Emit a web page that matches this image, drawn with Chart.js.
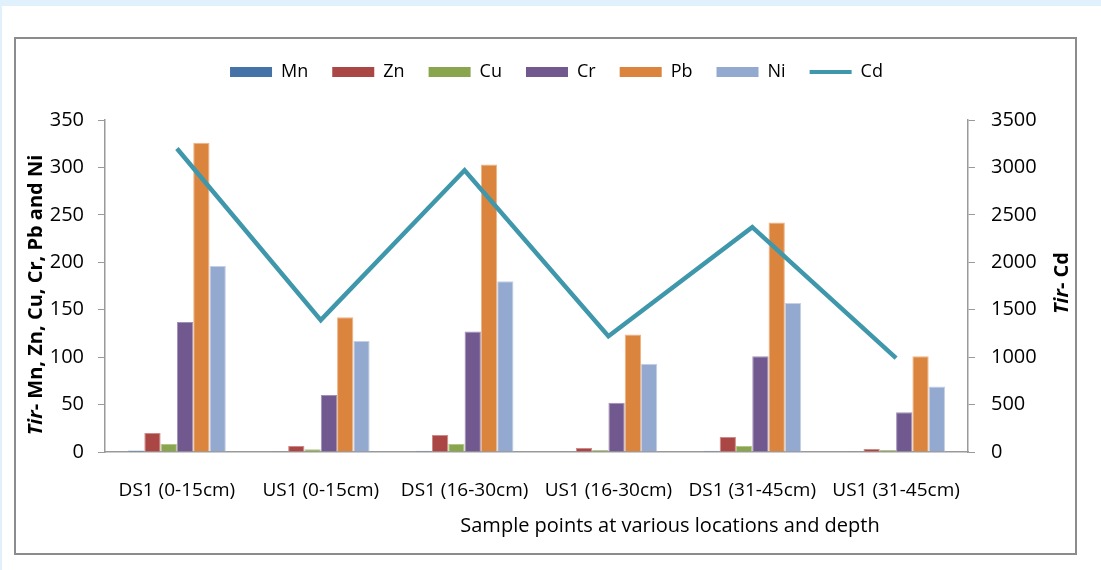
<!DOCTYPE html>
<html>
<head>
<meta charset="utf-8">
<script src="https://cdn.jsdelivr.net/npm/chart.js@4/dist/chart.umd.min.js"></script>
<style>
  html, body { margin: 0; padding: 0; }
  body { width: 1101px; height: 570px; background: #e0f1fb; position: relative; overflow: hidden; }
  .pagina { position: absolute; left: 2px; top: 6px; right: 0; bottom: 0; background: #fff; }
  .quadro { position: absolute; left: 14px; top: 37px; width: 1059px; height: 514px; border: 2px solid #8c8c8c; background: #fff; }
  .quadro canvas { display: block; }
</style>
</head>
<body>
<div class="pagina"></div>
<div class="quadro"><canvas id="grafico"></canvas></div>
<script>
const categorias = ['DS1 (0-15cm)', 'US1 (0-15cm)', 'DS1 (16-30cm)', 'US1 (16-30cm)', 'DS1 (31-45cm)', 'US1 (31-45cm)'];

const mn = [1.5, 0.2, 1.2, 0.2, 1.2, 0.2];
const zn = [20, 6.3, 18, 4.2, 15.8, 3.2];
const cu = [8.4, 3, 8.4, 2, 6.3, 2];
const cr = [137, 60, 127, 52, 101, 42];
const pb = [326, 142, 303, 124, 242, 101];
const ni = [196, 117, 180, 93, 157, 69];
const cd = [3200, 1390, 2970, 1220, 2370, 990];

const ticksEsq = [0, 50, 100, 150, 200, 250, 300, 350];
const ticksDir = [0, 500, 1000, 1500, 2000, 2500, 3000, 3500];

const fonte = "'Open Sans', 'DejaVu Sans', sans-serif";
Chart.defaults.font.family = fonte;
Chart.defaults.color = '#000';

function barra(label, data, cor, borda) {
    return {
        type: 'bar', label, data,
        backgroundColor: cor,
        borderColor: borda,
        borderWidth: 1,
        categoryPercentage: 0.68,
        barPercentage: 1,
        yAxisID: 'y',
        order: 1
    };
}

// espaço extra entre a legenda e a área do gráfico
const margemLegenda = {
    id: 'margemLegenda',
    beforeInit(chart) {
        const fitOriginal = chart.legend.fit;
        chart.legend.fit = function () {
            fitOriginal.bind(chart.legend)();
            this.height += 29;
        };
    }
};

function tituloRotacionado(ctx, x, y, italico, resto) {
    ctx.save();
    ctx.translate(x, y);
    ctx.rotate(-Math.PI / 2);
    ctx.textBaseline = 'middle';
    ctx.textAlign = 'left';
    ctx.fillStyle = '#000';
    ctx.font = `italic bold 20px ${fonte}`;
    const w1 = ctx.measureText(italico).width;
    ctx.font = `bold 20px ${fonte}`;
    const w2 = ctx.measureText(resto).width;
    const inicio = -(w1 + w2) / 2;
    ctx.font = `italic bold 20px ${fonte}`;
    ctx.fillText(italico, inicio, 0);
    ctx.font = `bold 20px ${fonte}`;
    ctx.fillText(resto, inicio + w1, 0);
    ctx.restore();
}

const titulosEixos = {
    id: 'titulosEixos',
    afterDraw(chart) {
        const ctx = chart.ctx;
        tituloRotacionado(ctx, 20, 256, 'Tir', '- Mn, Zn, Cu, Cr, Pb and Ni');
        tituloRotacionado(ctx, 1046, 244, 'Tir', '- Cd');
        ctx.save();
        ctx.font = `20px ${fonte}`;
        ctx.fillStyle = '#000';
        ctx.textAlign = 'center';
        ctx.textBaseline = 'middle';
        ctx.fillText('Sample points at various locations and depth', 654, 487);
        ctx.restore();
    }
};

const ctx = document.getElementById('grafico').getContext('2d');
new Chart(ctx, {
    data: {
        labels: categorias,
        datasets: [
            barra('Mn', mn, '#4572a7', '#7e9cc4'),
            barra('Zn', zn, '#aa4643', '#cf8a88'),
            barra('Cu', cu, '#89a54e', '#b1c68a'),
            barra('Cr', cr, '#71588f', '#a090b5'),
            barra('Pb', pb, '#db843d', '#efb486'),
            barra('Ni', ni, '#93a9cf', '#c3d0e6'),
            {
                type: 'line', label: 'Cd', data: cd,
                borderColor: '#3f97ab',
                backgroundColor: '#3f97ab',
                borderWidth: 4.5,
                pointRadius: 0,
                tension: 0,
                yAxisID: 'y1',
                order: 0
            }
        ]
    },
    options: {
        responsive: true,
        maintainAspectRatio: false,
        animation: false,
        layout: { padding: { top: 0, left: 22, right: 0, bottom: 0 } },
        plugins: {
            tooltip: { enabled: false },
            legend: {
                position: 'top',
                labels: {
                    usePointStyle: true,
                    pointStyleWidth: 42,
                    boxHeight: 10,
                    padding: 24,
                    font: { size: 18 },
                    sort: (a, b) => a.datasetIndex - b.datasetIndex,
                    generateLabels(chart) {
                        const itens = Chart.defaults.plugins.legend.labels.generateLabels(chart);
                        itens.forEach(it => {
                            const ds = chart.data.datasets[it.datasetIndex];
                            if (ds.type === 'line') {
                                it.pointStyle = 'line';
                                it.strokeStyle = ds.borderColor;
                                it.lineWidth = 4;
                            } else {
                                it.pointStyle = 'rect';
                                it.fillStyle = ds.backgroundColor;
                                it.lineWidth = 0;
                            }
                        });
                        return itens;
                    }
                }
            }
        },
        scales: {
            x: {
                grid: { display: false },
                border: { display: true, color: '#9a9a9a', width: 1.5 },
                ticks: { autoSkip: false, maxRotation: 0, minRotation: 0, padding: 19, font: { size: 19 } },
                afterFit: (s) => { s.height = 101; }
            },
            y: {
                position: 'left',
                min: 0, max: 350,
                afterBuildTicks: (s) => { s.ticks = ticksEsq.map(v => ({ value: v })); },
                grid: { drawOnChartArea: false, drawTicks: true, tickLength: 7, color: '#9a9a9a' },
                border: { color: '#9a9a9a', width: 1.5 },
                ticks: { padding: 14, font: { size: 20 }, callback: (v) => String(v) },
                afterFit: (s) => { s.width = 67; }
            },
            y1: {
                position: 'right',
                min: 0, max: 3500,
                afterBuildTicks: (s) => { s.ticks = ticksDir.map(v => ({ value: v })); },
                grid: { drawOnChartArea: false, drawTicks: true, tickLength: 7, color: '#9a9a9a' },
                border: { color: '#9a9a9a', width: 1.5 },
                ticks: { padding: 16, font: { size: 20 }, callback: (v) => String(v) },
                afterFit: (s) => { s.width = 107; }
            }
        }
    },
    plugins: [margemLegenda, titulosEixos]
});
</script>
</body>
</html>
